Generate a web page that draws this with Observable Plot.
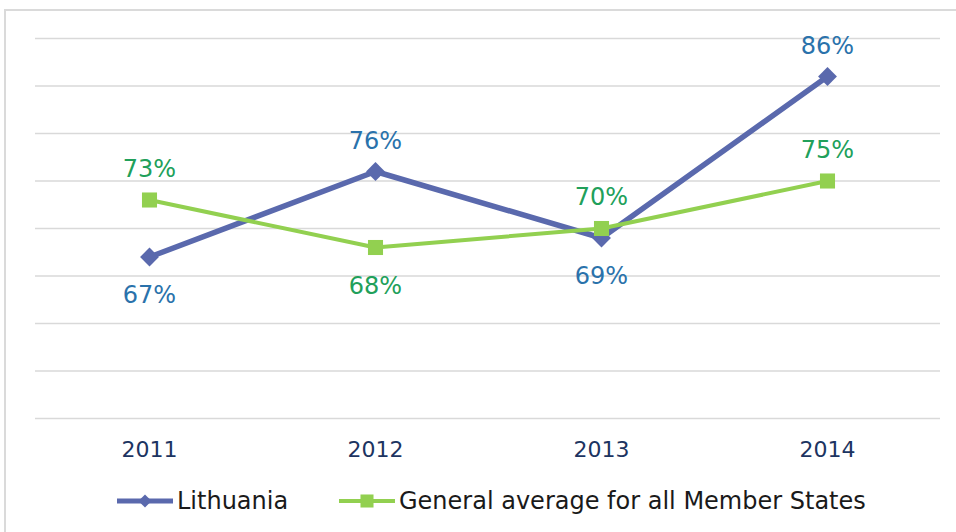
<!DOCTYPE html>
<html>
<head>
<meta charset="utf-8">
<script src="https://cdn.jsdelivr.net/npm/d3@7"></script>
<script src="https://cdn.jsdelivr.net/npm/@observablehq/plot@0.6"></script>
<style>
  html, body { margin: 0; padding: 0; background: #fff; }
  body { width: 956px; height: 532px; position: relative; overflow: hidden; font-family: "DejaVu Sans", Verdana, sans-serif; }
  #frame { position: absolute; left: 4px; top: 9px; width: 1000px; height: 600px; border-top: 2px solid #dadada; border-left: 2px solid #dadada; }
  #chart { position: absolute; left: 0; top: 0; }
  #legend { position: absolute; left: 0; top: 484px; width: 956px; height: 34px; }
  .item { position: absolute; top: 0; display: flex; align-items: center; height: 34px; font-size: 24px; color: #1a1a1a; }
  .item svg { display: block; margin-right: 4px; }
</style>
</head>
<body>
<div id="frame"></div>
<div id="chart"></div>
<div id="legend"></div>
<script>
const years = ["2011", "2012", "2013", "2014"];
const lithuania = [67, 76, 69, 86];
const average = [73, 68, 70, 75];
const lithuaniaLabelSide = ["below", "above", "below", "above"];
const averageLabelSide = ["above", "below", "above", "above"];
const seriesNames = ["Lithuania", "General average for all Member States"];
const gridTicks = [50, 55, 60, 65, 70, 75, 80, 85, 90];

const lineColors = ["#5a69ad", "#92d050"];
const labelColors = ["#2a72ab", "#21a05a"];

const rows = [];
years.forEach((yr, i) => {
  rows.push({series: seriesNames[0], year: yr, value: lithuania[i], side: lithuaniaLabelSide[i]});
  rows.push({series: seriesNames[1], year: yr, value: average[i], side: averageLabelSide[i]});
});
const lit = rows.filter(d => d.series === seriesNames[0]);
const avg = rows.filter(d => d.series === seriesNames[1]);

const fmt = d => d.value + "%";

const chart = Plot.plot({
  width: 956,
  height: 470,
  marginTop: 38,
  marginBottom: 52,
  marginLeft: 35,
  marginRight: 16,
  style: {fontFamily: "'DejaVu Sans', Verdana, sans-serif", background: "transparent"},
  x: {type: "point", domain: years, padding: 0.5, label: null},
  y: {domain: [50, 90], axis: null},
  marks: [
    Plot.ruleY(gridTicks, {stroke: "#d9d9d9", strokeWidth: 1.3}),
    Plot.axisX({tickSize: 0, tickPadding: 23, fontSize: 22, fill: "#1c3461", label: null}),
    Plot.line(lit, {x: "year", y: "value", stroke: lineColors[0], strokeWidth: 5.5, strokeLinejoin: "miter"}),
    Plot.line(avg, {x: "year", y: "value", stroke: lineColors[1], strokeWidth: 4}),
    Plot.dot(lit, {x: "year", y: "value", symbol: "diamond2", r: 8.5, fill: lineColors[0], stroke: null}),
    Plot.dot(avg, {x: "year", y: "value", symbol: "square", r: 8.5, fill: lineColors[1], stroke: null}),
    Plot.text(lit.filter(d => d.side === "above"), {x: "year", y: "value", text: fmt, dy: -30, fill: labelColors[0], fontSize: 24}),
    Plot.text(lit.filter(d => d.side === "below"), {x: "year", y: "value", text: fmt, dy: 38, fill: labelColors[0], fontSize: 24}),
    Plot.text(avg.filter(d => d.side === "above"), {x: "year", y: "value", text: fmt, dy: -31, fill: labelColors[1], fontSize: 24}),
    Plot.text(avg.filter(d => d.side === "below"), {x: "year", y: "value", text: fmt, dy: 39, fill: labelColors[1], fontSize: 24})
  ]
});
document.getElementById("chart").appendChild(chart);

// Legend
const legend = document.getElementById("legend");
const legendLeft = [117, 339];
const legendSymbols = ["diamond", "square"];
seriesNames.forEach((name, i) => {
  const item = document.createElement("div");
  item.className = "item";
  item.style.left = legendLeft[i] + "px";
  const ns = "http://www.w3.org/2000/svg";
  const svg = document.createElementNS(ns, "svg");
  svg.setAttribute("width", 56);
  svg.setAttribute("height", 20);
  const ln = document.createElementNS(ns, "line");
  ln.setAttribute("x1", 0); ln.setAttribute("x2", 56);
  ln.setAttribute("y1", 10); ln.setAttribute("y2", 10);
  ln.setAttribute("stroke", lineColors[i]);
  ln.setAttribute("stroke-width", i === 0 ? 5 : 4);
  svg.appendChild(ln);
  const sym = document.createElementNS(ns, "path");
  const s = legendSymbols[i] === "diamond"
    ? d3.symbol(d3.symbolDiamond2, 110)
    : d3.symbol(d3.symbolSquare, 170);
  sym.setAttribute("d", s());
  sym.setAttribute("transform", "translate(28,10)");
  sym.setAttribute("fill", lineColors[i]);
  svg.appendChild(sym);
  item.appendChild(svg);
  const span = document.createElement("span");
  span.textContent = name;
  item.appendChild(span);
  legend.appendChild(item);
});
</script>
</body>
</html>
